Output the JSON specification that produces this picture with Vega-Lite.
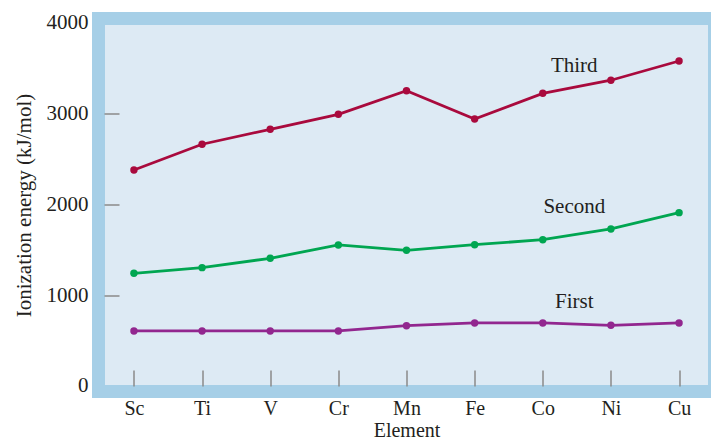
{
  "$schema": "https://vega.github.io/schema/vega-lite/v6.json",
  "width": 616,
  "height": 373,
  "autosize": {"type": "none"},
  "padding": {"left": 98.5, "top": 18.5, "right": -3.5, "bottom": 51.5},
  "background": "white",
  "config": {
    "view": {"fill": "#ddeaf4", "stroke": "#a6cfe7", "strokeWidth": 13},
    "font": "Liberation Serif"
  },
  "datasets": {
    "ie": [
      {"Element": "Sc", "series": "Third", "value": 2379},
      {"Element": "Ti", "series": "Third", "value": 2662},
      {"Element": "V", "series": "Third", "value": 2827},
      {"Element": "Cr", "series": "Third", "value": 2992},
      {"Element": "Mn", "series": "Third", "value": 3251},
      {"Element": "Fe", "series": "Third", "value": 2940},
      {"Element": "Co", "series": "Third", "value": 3223},
      {"Element": "Ni", "series": "Third", "value": 3367},
      {"Element": "Cu", "series": "Third", "value": 3579},
      {"Element": "Sc", "series": "Second", "value": 1241},
      {"Element": "Ti", "series": "Second", "value": 1303},
      {"Element": "V", "series": "Second", "value": 1406},
      {"Element": "Cr", "series": "Second", "value": 1553},
      {"Element": "Mn", "series": "Second", "value": 1494},
      {"Element": "Fe", "series": "Second", "value": 1556},
      {"Element": "Co", "series": "Second", "value": 1611},
      {"Element": "Ni", "series": "Second", "value": 1729},
      {"Element": "Cu", "series": "Second", "value": 1909},
      {"Element": "Sc", "series": "First", "value": 606},
      {"Element": "Ti", "series": "First", "value": 606},
      {"Element": "V", "series": "First", "value": 606},
      {"Element": "Cr", "series": "First", "value": 606},
      {"Element": "Mn", "series": "First", "value": 664},
      {"Element": "Fe", "series": "First", "value": 694},
      {"Element": "Co", "series": "First", "value": 694},
      {"Element": "Ni", "series": "First", "value": 668},
      {"Element": "Cu", "series": "First", "value": 694}
    ],
    "labels": [
      {"Element": "Co", "label": "Third", "value": 3458},
      {"Element": "Co", "label": "Second", "value": 1909},
      {"Element": "Co", "label": "First", "value": 856}
    ]
  },
  "encoding": {
    "x": {
      "field": "Element",
      "type": "ordinal",
      "sort": ["Sc", "Ti", "V", "Cr", "Mn", "Fe", "Co", "Ni", "Cu"],
      "scale": {"type": "point", "padding": 0.52},
      "axis": {
        "title": "Element",
        "titleFont": "Liberation Serif",
        "titleFontSize": 20,
        "titleFontWeight": "normal",
        "titleColor": "#231f20",
        "titlePadding": 2,
        "labelFont": "Liberation Serif",
        "labelFontSize": 20,
        "labelColor": "#231f20",
        "labelAngle": 0,
        "labelPadding": 28,
        "domain": false,
        "grid": false,
        "offset": -5.5,
        "tickSize": -16,
        "tickColor": "#8a8a8a",
        "tickWidth": 1.5
      }
    },
    "y": {
      "field": "value",
      "type": "quantitative",
      "scale": {"domain": [-61, 4047], "nice": false, "zero": false},
      "axis": {
        "title": "Ionization energy (kJ/mol)",
        "titleFont": "Liberation Serif",
        "titleFontSize": 21,
        "titleFontWeight": "normal",
        "titleColor": "#231f20",
        "titlePadding": 12,
        "labelFont": "Liberation Serif",
        "labelFontSize": 21,
        "labelColor": "#231f20",
        "labelPadding": 31,
        "values": [0, 1000, 2000, 3000, 4000],
        "format": "d",
        "domain": false,
        "grid": false,
        "offset": -5.5,
        "tickSize": -15,
        "tickColor": "#8a8a8a",
        "tickWidth": 1.5,
        "tickOpacity": {"condition": {"test": "datum.value === 0 || datum.value === 4000", "value": 0}, "value": 1}
      }
    }
  },
  "layer": [
    {
      "data": {"name": "ie"},
      "mark": {"type": "line", "strokeWidth": 2.8, "point": {"filled": true, "size": 55, "opacity": 1}},
      "encoding": {
        "color": {
          "field": "series",
          "type": "nominal",
          "scale": {"domain": ["First", "Second", "Third"], "range": ["#92278f", "#00a651", "#a90a3d"]},
          "legend": null
        }
      }
    },
    {
      "data": {"name": "labels"},
      "mark": {"type": "text", "font": "Liberation Serif", "fontSize": 21, "color": "#231f20", "dx": 31.5, "baseline": "alphabetic", "align": "center"},
      "encoding": {
        "text": {"field": "label", "type": "nominal"}
      }
    }
  ]
}
